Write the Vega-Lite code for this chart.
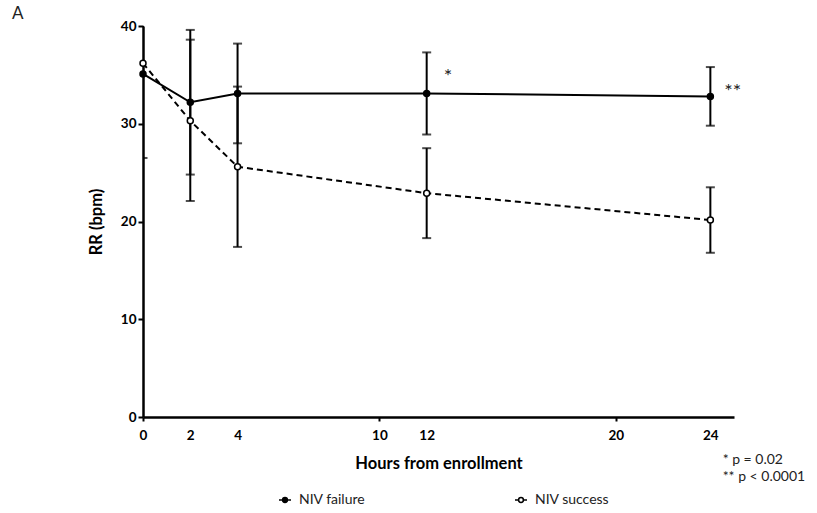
{
  "$schema": "https://vega.github.io/schema/vega-lite/v6.json",
  "width": 591,
  "height": 391,
  "autosize": {"type": "none"},
  "padding": {"left": 143, "top": 26, "right": 83, "bottom": 96},
  "background": "white",
  "config": {
    "view": {"stroke": null},
    "font": "Lato",
    "axis": {
      "grid": false,
      "domainColor": "black",
      "domainWidth": 2.5,
      "tickColor": "black",
      "tickWidth": 2,
      "labelColor": "black",
      "labelFont": "Lato",
      "labelFontWeight": "bold",
      "labelFontSize": 13.5,
      "titleColor": "black",
      "titleFont": "Lato",
      "titleFontWeight": "bold",
      "titleFontSize": 16.5
    }
  },
  "title": {
    "text": "A",
    "anchor": "start",
    "frame": "group",
    "font": "Lato",
    "fontSize": 17,
    "fontWeight": "normal",
    "color": "#222222",
    "dx": -131,
    "offset": -4
  },
  "datasets": {
    "rr": [
      {"group": "NIV failure", "hour": 0, "mean": 35.1, "lo": 26.5, "hi": 43.7},
      {"group": "NIV failure", "hour": 2, "mean": 32.2, "lo": 24.8, "hi": 39.6},
      {"group": "NIV failure", "hour": 4, "mean": 33.1, "lo": 28.0, "hi": 38.2},
      {"group": "NIV failure", "hour": 12, "mean": 33.1, "lo": 28.9, "hi": 37.3},
      {"group": "NIV failure", "hour": 24, "mean": 32.8, "lo": 29.8, "hi": 35.8},
      {"group": "NIV success", "hour": 0, "mean": 36.2, "lo": null, "hi": null},
      {"group": "NIV success", "hour": 2, "mean": 30.3, "lo": 22.1, "hi": 38.6},
      {"group": "NIV success", "hour": 4, "mean": 25.6, "lo": 17.4, "hi": 33.8},
      {"group": "NIV success", "hour": 12, "mean": 22.9, "lo": 18.3, "hi": 27.5},
      {"group": "NIV success", "hour": 24, "mean": 20.15, "lo": 16.8, "hi": 23.5}
    ],
    "stars": [
      {"text": "*", "hour": 12.9, "rr": 34.75},
      {"text": "**", "hour": 24.95, "rr": 33.2}
    ],
    "pvalues": [
      {"text": "* p = 0.02", "hour": 24.52, "rr": -4.4},
      {"text": "** p < 0.0001", "hour": 24.52, "rr": -6.1}
    ]
  },
  "layer": [
    {
      "data": {"name": "rr"},
      "transform": [{"filter": "isValid(datum.lo)"}],
      "mark": {"type": "rule", "color": "black", "strokeWidth": 2, "clip": true},
      "encoding": {
        "x": {
          "field": "hour",
          "type": "quantitative",
          "scale": {"domain": [0, 25], "nice": false},
          "axis": {
            "values": [0, 2, 4, 10, 12, 20, 24],
            "tickSize": 4,
            "tickOpacity": {"condition": {"test": "indexof([0, 10, 20], datum.value) >= 0", "value": 1}, "value": 0},
            "labelPadding": 7,
            "labelFlush": false,
            "title": "Hours from enrollment",
            "titlePadding": 14
          }
        },
        "y": {
          "field": "lo",
          "type": "quantitative",
          "scale": {"domain": [0, 40], "nice": false},
          "axis": {
            "values": [0, 10, 20, 30, 40],
            "tickSize": 5,
            "labelPadding": 2,
            "title": "RR (bpm)",
            "titlePadding": 16
          }
        },
        "y2": {"field": "hi"}
      }
    },
    {
      "data": {"name": "rr"},
      "transform": [
        {"fold": ["lo", "hi"], "as": ["end", "v"]},
        {"filter": "isValid(datum.v)"}
      ],
      "mark": {"type": "tick", "orient": "horizontal", "color": "black", "size": 9, "thickness": 2, "clip": true},
      "encoding": {
        "x": {"field": "hour", "type": "quantitative"},
        "y": {"field": "v", "type": "quantitative"}
      }
    },
    {
      "data": {"name": "rr"},
      "transform": [{"filter": "datum.group === 'NIV failure'"}],
      "mark": {"type": "line", "color": "black", "strokeWidth": 2},
      "encoding": {
        "x": {"field": "hour", "type": "quantitative"},
        "y": {"field": "mean", "type": "quantitative"}
      }
    },
    {
      "data": {"name": "rr"},
      "transform": [{"filter": "datum.group === 'NIV success'"}],
      "mark": {"type": "line", "color": "black", "strokeWidth": 2, "strokeDash": [6, 4]},
      "encoding": {
        "x": {"field": "hour", "type": "quantitative"},
        "y": {"field": "mean", "type": "quantitative"}
      }
    },
    {
      "data": {"name": "rr"},
      "mark": {"type": "point", "shape": "circle", "filled": true, "size": 36, "stroke": "black", "strokeWidth": 1.5, "opacity": 1},
      "encoding": {
        "x": {"field": "hour", "type": "quantitative"},
        "y": {"field": "mean", "type": "quantitative"},
        "fill": {
          "field": "group",
          "type": "nominal",
          "scale": {"domain": ["NIV failure", "NIV success"], "range": ["black", "white"]},
          "legend": {
            "orient": "none",
            "legendX": 135,
            "legendY": 467,
            "direction": "horizontal",
            "title": null,
            "symbolType": "M-1,0H-0.4M0.4,0H1M0.4,0A0.4,0.4,0,1,1,-0.4,0A0.4,0.4,0,1,1,0.4,0Z",
            "symbolSize": 144,
            "symbolStrokeColor": "black",
            "symbolStrokeWidth": 1.5,
            "labelFont": "Lato",
            "labelFontSize": 14,
            "labelColor": "#222222",
            "labelOffset": 7,
            "columnPadding": 146
          }
        }
      }
    },
    {
      "data": {"name": "stars"},
      "mark": {"type": "text", "font": "Lato", "fontSize": 20, "fill": "#222222", "align": "center", "baseline": "middle"},
      "encoding": {
        "x": {"field": "hour", "type": "quantitative"},
        "y": {"field": "rr", "type": "quantitative"},
        "text": {"field": "text"}
      }
    },
    {
      "data": {"name": "pvalues"},
      "mark": {"type": "text", "font": "Lato", "fontSize": 14, "fill": "#222222", "align": "left", "baseline": "middle"},
      "encoding": {
        "x": {"field": "hour", "type": "quantitative"},
        "y": {"field": "rr", "type": "quantitative"},
        "text": {"field": "text"}
      }
    }
  ]
}
